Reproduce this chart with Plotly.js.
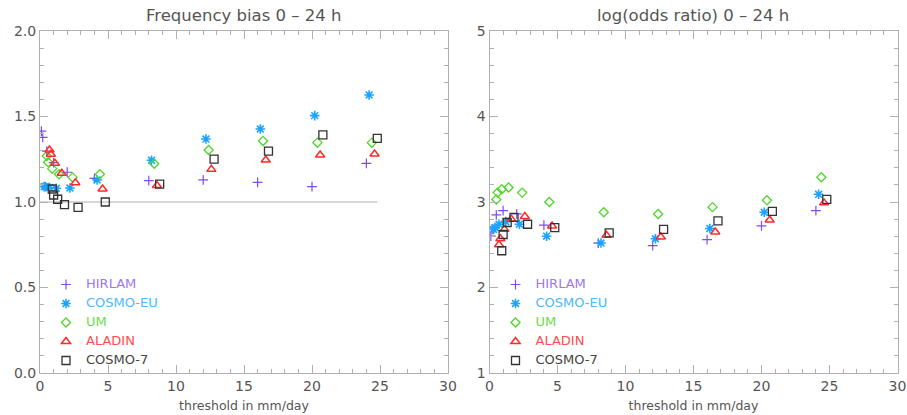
<!DOCTYPE html>
<html>
<head>
<meta charset="utf-8">
<script src="https://cdn.plot.ly/plotly-3.0.1.min.js"></script>
<style>html,body{margin:0;padding:0;background:#fff;}#chart{width:907px;height:415px;}</style>
</head>
<body>
<div id="chart"></div>
<script>
// thresholds (mm/day); each model is plotted with a small horizontal offset
var thresholds = [0.1, 0.2, 0.5, 1, 2, 4, 8, 12, 16, 20, 24];
var models = ["HIRLAM", "COSMO-EU", "UM", "ALADIN", "COSMO-7"];
var modelOffsets = [0, 0.2, 0.4, 0.6, 0.8];

// Frequency bias 0 - 24 h
var biasHIRLAM  = [1.415, 1.378, 1.298, 1.23, 1.174, 1.138, 1.125, 1.129, 1.115, 1.09, 1.226];
var biasCOSMOEU = [1.09, 1.09, 1.085, 1.08, 1.082, 1.129, 1.244, 1.368, 1.427, 1.505, 1.626];
var biasUM      = [1.269, 1.232, 1.195, 1.162, 1.144, 1.162, 1.224, 1.304, 1.357, 1.347, 1.347];
var biasALADIN  = [1.304, 1.279, 1.226, 1.168, 1.113, 1.076, 1.096, 1.191, 1.246, 1.275, 1.281];
var biasCOSMO7  = [1.076, 1.041, 1.016, 0.985, 0.969, 1.0, 1.105, 1.251, 1.298, 1.392, 1.372];

// log(odds ratio) 0 - 24 h
var lorHIRLAM  = [2.60, 2.68, 2.85, 2.90, 2.86, 2.73, 2.52, 2.49, 2.56, 2.72, 2.90];
var lorCOSMOEU = [2.68, 2.70, 2.74, 2.77, 2.74, 2.60, 2.52, 2.57, 2.69, 2.88, 3.09];
var lorUM      = [3.03, 3.11, 3.15, 3.17, 3.11, 3.00, 2.88, 2.86, 2.94, 3.02, 3.29];
var lorALADIN  = [2.50, 2.57, 2.68, 2.80, 2.83, 2.72, 2.61, 2.59, 2.65, 2.79, 2.99];
var lorCOSMO7  = [2.43, 2.62, 2.76, 2.82, 2.74, 2.70, 2.64, 2.68, 2.78, 2.89, 3.03];

var biasTickVals = [0.0, 0.5, 1.0, 1.5, 2.0];
var lorTickVals = [1, 2, 3, 4, 5];
var xTickVals = [0, 5, 10, 15, 20, 25, 30];
var biasReference = 1.0;

var biasSeries = [biasHIRLAM, biasCOSMOEU, biasUM, biasALADIN, biasCOSMO7];
var lorSeries = [lorHIRLAM, lorCOSMOEU, lorUM, lorALADIN, lorCOSMO7];

var colors = ["#7b4df2", "#1aa3ff", "#4fd62a", "#ff2a2a", "#333333"];
var textColors = ["#9a78f0", "#4db8ff", "#6ddc4a", "#ff4d4d", "#444444"];
var symbols = ["cross-thin-open", "asterisk-open", "diamond-open", "triangle-up-open", "square-open"];
var sizes = [7, 8, 7, 8, 8];
var widths = [1.2, 1.6, 1.3, 1.5, 1.3];

var FONT = "DejaVu Sans";
var traces = [];
function addTraces(series, xa, ya, legendName) {
  for (var m = 0; m < models.length; m++) {
    var xs = thresholds.map(function (t) { return t + modelOffsets[m]; });
    traces.push({
      type: "scatter", mode: "markers",
      x: xs, y: series[m], xaxis: xa, yaxis: ya,
      name: '<span style="color:' + textColors[m] + ';font-size:13px">' + models[m] + '</span>',
      legend: legendName,
      marker: {symbol: symbols[m], size: sizes[m], color: colors[m],
               line: {color: colors[m], width: widths[m]}},
      hoverinfo: "x+y"
    });
  }
}
addTraces(biasSeries, "x", "y", "legend");
addTraces(lorSeries, "x2", "y2", "legend2");

var axisCommon = {
  showline: true, linecolor: "#b0b0b0", linewidth: 1, mirror: "allticks",
  ticks: "inside", ticklen: 8, tickcolor: "#b0b0b0", tickwidth: 1,
  showgrid: false, zeroline: false,
  tickfont: {family: FONT, size: 14, color: "#555"}
};
function ax(extra) { return Object.assign({}, axisCommon, extra); }

var layout = {
  width: 907, height: 415,
  margin: {l: 0, r: 0, t: 0, b: 0},
  paper_bgcolor: "#fff", plot_bgcolor: "#fff",
  showlegend: true,
  xaxis: ax({domain: [40/907, 448/907], range: [0, 30], tickvals: xTickVals,
    minor: {dtick: 1, ticks: "inside", ticklen: 4, tickcolor: "#b0b0b0"},
    title: {text: "threshold in mm/day", font: {family: FONT, size: 12.5, color: "#555"}, standoff: 8},
    anchor: "y"}),
  yaxis: ax({domain: [42/415, 384/415], range: [0, 2], tickvals: biasTickVals, tickformat: ".1f",
    minor: {dtick: 0.1, ticks: "inside", ticklen: 4, tickcolor: "#b0b0b0"}, anchor: "x"}),
  xaxis2: ax({domain: [489.5/907, 897.5/907], range: [0, 30], tickvals: xTickVals,
    minor: {dtick: 1, ticks: "inside", ticklen: 4, tickcolor: "#b0b0b0"},
    title: {text: "threshold in mm/day", font: {family: FONT, size: 12.5, color: "#555"}, standoff: 8},
    anchor: "y2"}),
  yaxis2: ax({domain: [42/415, 384/415], range: [1, 5], tickvals: lorTickVals,
    minor: {dtick: 0.2, ticks: "inside", ticklen: 4, tickcolor: "#b0b0b0"}, anchor: "x2"}),
  legend: {x: 46/907, y: 1 - 270/415, xanchor: "left", yanchor: "top",
    bgcolor: "rgba(0,0,0,0)", font: {family: FONT, size: 10}, tracegroupgap: 0, itemwidth: 30},
  legend2: {x: 495.5/907, y: 1 - 270/415, xanchor: "left", yanchor: "top",
    bgcolor: "rgba(0,0,0,0)", font: {family: FONT, size: 10}, tracegroupgap: 0, itemwidth: 30},
  shapes: [{type: "line", xref: "x", yref: "y", x0: 0, x1: 24.8, y0: biasReference, y1: biasReference,
    line: {color: "#c8c8c8", width: 1.5}, layer: "below"}],
  annotations: [
    {text: "Frequency bias 0 \u2013 24 h", xref: "paper", yref: "paper", x: 244/907, y: 1 - 16/415,
     xanchor: "center", yanchor: "middle", showarrow: false, font: {family: FONT, size: 16.5, color: "#555"}},
    {text: "log(odds ratio) 0 \u2013 24 h", xref: "paper", yref: "paper", x: 693/907, y: 1 - 16/415,
     xanchor: "center", yanchor: "middle", showarrow: false, font: {family: FONT, size: 16.5, color: "#555"}}
  ]
};

Plotly.newPlot("chart", traces, layout, {staticPlot: true, displayModeBar: false});
</script>
</body>
</html>
